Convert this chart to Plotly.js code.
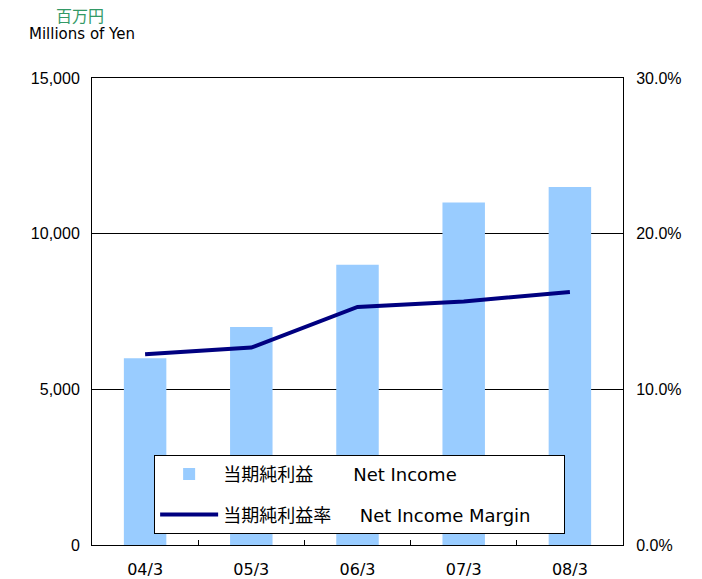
<!DOCTYPE html>
<html>
<head>
<meta charset="utf-8">
<script src="https://cdn.plot.ly/plotly-3.0.1.min.js"></script>
<style>html,body{margin:0;padding:0;background:#fff;}#chart{width:702px;height:579px;}</style>
</head>
<body>
<div id="chart"></div>
<script>
const categories = ["04/3", "05/3", "06/3", "07/3", "08/3"];
const netIncome = [6000, 7000, 9000, 11000, 11500];
const netIncomeMargin = [0.1225, 0.1268, 0.1529, 0.1565, 0.1625];
const leftTicks = [0, 5000, 10000, 15000];
const rightTicks = [0, 0.1, 0.2, 0.3];
const NB = "\u00a0";
const seriesNames = ["当期純利益" + NB.repeat(7) + "Net Income", "当期純利益率" + NB.repeat(5) + "Net Income Margin" + NB.repeat(5)];
const unitJa = "百万円";
const unitEn = "Millions of Yen";

const traces = [
  {
    type: "bar", x: categories, y: netIncome, name: seriesNames[0],
    marker: {color: "#99CCFF", line: {width: 0}},
    legendgroup: "a", hoverinfo: "none"
  },
  {
    type: "scatter", mode: "lines", x: categories, y: netIncomeMargin, name: seriesNames[1],
    yaxis: "y2", line: {color: "#000080", width: 4},
    legendgroup: "b", hoverinfo: "none"
  }
];

const tickFont = {family: "Liberation Sans, Arial, sans-serif", size: 16, color: "#000"};

const layout = {
  width: 702, height: 579,
  margin: {l: 92, r: 79, t: 78, b: 34, pad: 0},
  paper_bgcolor: "#fff", plot_bgcolor: "#fff",
  bargap: 0.6,
  showlegend: true,
  legend: {
    x: 0.117, y: 0.193, xanchor: "left", yanchor: "top",
    bgcolor: "#fff", bordercolor: "#000", borderwidth: 1,
    font: {family: "DejaVu Sans, Noto Sans CJK JP, sans-serif", size: 18, color: "#000"},
    traceorder: "grouped", tracegroupgap: 14, itemwidth: 58
  },
  xaxis: {
    type: "category",
    showline: true, linecolor: "#000", linewidth: 1, mirror: true,
    ticks: "inside", ticklen: 5, tickcolor: "#000", tickson: "boundaries",
    ticklabelstandoff: 10,
    tickfont: {family: "DejaVu Sans, sans-serif", size: 16, color: "#000"},
    showgrid: false, fixedrange: true
  },
  yaxis: {
    range: [0, 15000], tickvals: leftTicks, tickformat: ",",
    showline: true, linecolor: "#000", linewidth: 1,
    ticks: "inside", ticklen: 4, tickcolor: "#000", ticklabelstandoff: 8,
    showgrid: true, gridcolor: "#000", gridwidth: 1,
    zeroline: false, tickfont: tickFont, fixedrange: true
  },
  yaxis2: {
    overlaying: "y", side: "right", range: [0, 0.3], tickvals: rightTicks, tickformat: ".1%",
    showline: true, linecolor: "#000", linewidth: 1,
    ticks: "inside", ticklen: 4, tickcolor: "#000", ticklabelstandoff: 9,
    showgrid: false, zeroline: false, tickfont: tickFont, fixedrange: true
  },
  annotations: [
    {text: unitJa, xref: "paper", yref: "paper", x: -0.0226, y: 1.1349, showarrow: false,
     xanchor: "center", yanchor: "middle",
     font: {family: "Noto Sans CJK JP, sans-serif", size: 16, color: "#339966"}},
    {text: unitEn, xref: "paper", yref: "paper", x: -0.0188, y: 1.0942, showarrow: false,
     xanchor: "center", yanchor: "middle",
     font: {family: "DejaVu Sans, sans-serif", size: 15, color: "#000"}}
  ]
};

Plotly.newPlot("chart", traces, layout, {displayModeBar: false, staticPlot: true});
</script>
</body>
</html>
